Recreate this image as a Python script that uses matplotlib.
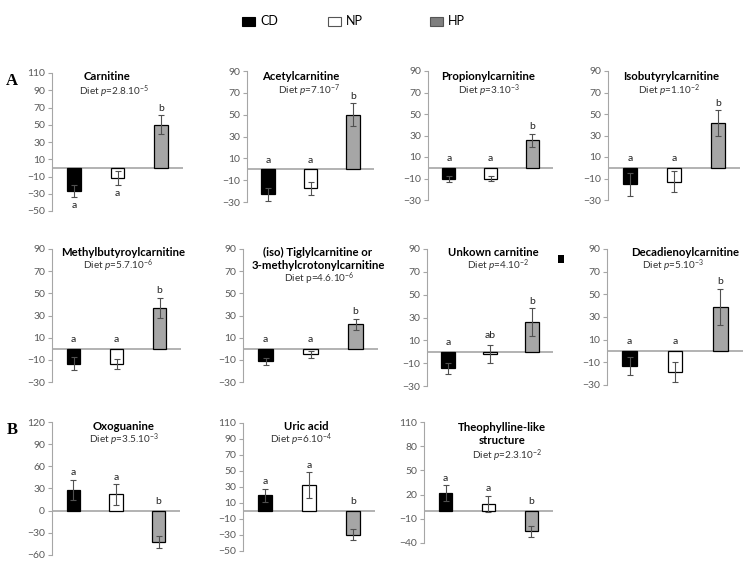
import matplotlib
matplotlib.use("Agg")
import matplotlib.pyplot as plt
from matplotlib.patches import Rectangle
import numpy as np

plt.rcParams['font.family'] = ['Lato', 'DejaVu Sans']
plt.rcParams['mathtext.fontset'] = 'custom'
plt.rcParams['mathtext.rm'] = 'Lato'
plt.rcParams['mathtext.it'] = 'Lato:italic'

# data
titles = ["Carnitine", "Acetylcarnitine", "Propionylcarnitine", "Isobutyrylcarnitine",
          "Methylbutyroylcarnitine", "(iso) Tiglylcarnitine or\n3-methylcrotonylcarnitine",
          "Unkown carnitine", "Decadienoylcarnitine",
          "Oxoguanine", "Uric acid", "Theophylline-like\nstructure"]
pvals = ["2.8.10^{-5}", "7.10^{-7}", "3.10^{-3}", "1.10^{-2}", "5.7.10^{-6}", "4.6.10^{-6}",
         "4.10^{-2}", "5.10^{-3}", "3.5.10^{-3}", "6.10^{-4}", "2.3.10^{-2}"]
groups = ["CD", "NP", "HP"]
cd = [-27, -23, -10.5, -15.5, -13.5, -11.5, -14.5, -13, 28, 19.5, 21.5]
cd_err = [7, 6, 2.5, 10.5, 6, 3, 5, 8, 14, 8.5, 10]
np_vals = [-12, -17.5, -10, -13, -13.5, -5, -2, -18.5, 22, 32.5, 8.5]
np_err = [8, 6, 2.2, 10, 4.5, 3, 8, 8.5, 14, 16, 10]
hp = [50, 50, 25.5, 41.5, 37, 22, 26, 39, -42.5, -29.5, -25.5]
hp_err = [11, 10.5, 6, 12, 9, 5, 12, 16, 8, 7, 7]
letters = [["a", "a", "b"]] * 6 + [["a", "ab", "b"]] + [["a", "a", "b"]] * 4
yticks = [(-50, 110, 20)] + [(-30, 90, 20)] * 7 + [(-60, 120, 30), (-50, 110, 20), (-40, 110, 30)]

# layout in pixels (left, right, top, bottom)
W, H = 756, 568
boxes = [(52, 183, 73, 211), (247, 374, 71, 202), (428, 553, 71, 200), (608, 740, 71, 200),
         (52, 181, 249, 382), (243, 378, 249, 382), (427, 553, 249, 386), (607, 743, 249, 385),
         (52, 180, 422, 555), (243, 375, 423, 551), (424, 553, 422, 543)]
title_xy = [(107, 76), (301, 76), (488, 76), (671, 76), (123, 252), (318, 259), (493, 252),
            (685, 252), (124, 427), (306, 427), (502, 434)]
diet_xy = [(114, 92), (309, 91), (489, 91), (669, 91), (118, 266), (319, 279), (498, 266),
           (673, 266), (124, 440), (301, 440), (507, 456)]

colors = ["black", "white", "#a6a6a6"]
grey = "#a6a6a6"

fig = plt.figure(figsize=(7.56, 5.68), dpi=100)

def fx(x):
    return x / W

def fy(y):
    return 1 - y / H

for i in range(len(titles)):
    l, r, t, b = boxes[i]
    ax = fig.add_axes([fx(l), fy(b), (r - l) / W, (b - t) / H])
    vals = [cd[i], np_vals[i], hp[i]]
    errs = [cd_err[i], np_err[i], hp_err[i]]
    x = np.arange(3)
    ax.axhline(0, color=grey, lw=1.2, zorder=1)
    ax.bar(x, vals, width=0.32, color=colors, edgecolor="black", lw=0.9, zorder=2)
    ax.errorbar(x, vals, yerr=errs, fmt="none", ecolor="#505050", elinewidth=0.8,
                capsize=2.5, capthick=0.8, zorder=3)
    lo, hi, st = yticks[i]
    ax.set_ylim(lo, hi)
    ax.set_xlim(-0.5, 2.5)
    ax.set_yticks(np.arange(lo, hi + 1, st))
    ax.set_xticks([])
    for s in ["top", "right", "bottom"]:
        ax.spines[s].set_visible(False)
    ax.spines["left"].set_color(grey)
    ax.spines["left"].set_linewidth(0.8)
    ax.tick_params(axis="y", length=3, width=0.8, color=grey, labelcolor="#595959",
                   labelsize=7.5, pad=2)
    ax.patch.set_alpha(0)
    for j in range(3):
        v, e = vals[j], errs[j]
        if v > 0:
            ax.annotate(letters[i][j], (j, v + e), xytext=(0, 5), textcoords="offset points",
                        ha="center", va="center", fontsize=7.5, color="#222222")
        elif i == 0:
            ax.annotate(letters[i][j], (j, v - e), xytext=(0, -6), textcoords="offset points",
                        ha="center", va="center", fontsize=7.5, color="#222222")
        else:
            ax.annotate(letters[i][j], (j, max(0, v + e)), xytext=(0, 6.5),
                        textcoords="offset points",
                        ha="center", va="center", fontsize=7.5, color="#222222")
    tx, ty = title_xy[i]
    fig.text(fx(tx), fy(ty), titles[i], ha="center", va="center", fontsize=8.2,
             fontweight="bold", linespacing=1.3)
    dx, dy = diet_xy[i]
    if i == 5:
        dtxt = r"Diet p=" + "$" + pvals[i] + "$"
    else:
        dtxt = r"Diet $\it{p}$=" + "$" + pvals[i] + "$"
    fig.text(fx(dx), fy(dy), dtxt, ha="center", va="center", fontsize=7.2, color="#333333")

# legend
leg_x = [242, 328, 430]
for k in range(3):
    fig.patches.append(Rectangle((fx(leg_x[k]), fy(26)), 13 / W, 9 / H, transform=fig.transFigure,
                                 facecolor=colors[k] if k < 2 else "#7f7f7f",
                                 edgecolor="black" if k == 0 else "#555555", lw=0.8))
    fig.text(fx(leg_x[k] + 18), fy(21), groups[k], ha="left", va="center", fontsize=9)

fig.text(fx(12), fy(81), "A", ha="center", va="center", fontsize=12, fontweight="bold",
         family="Liberation Serif")
fig.text(fx(12), fy(430), "B", ha="center", va="center", fontsize=12, fontweight="bold",
         family="Liberation Serif")
fig.patches.append(Rectangle((fx(558), fy(263)), 6 / W, 8 / H, transform=fig.transFigure,
                             facecolor="black", edgecolor="none"))

fig.savefig("out.png", dpi=100)
